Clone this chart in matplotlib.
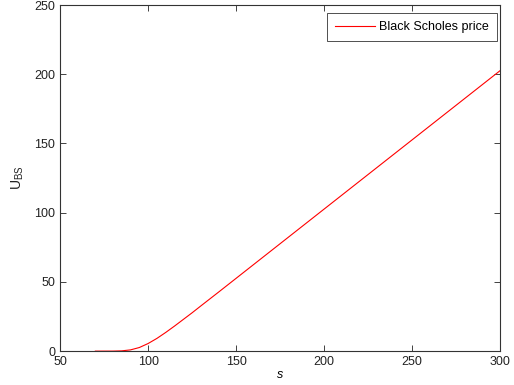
import matplotlib.pyplot as plt
import numpy as np

plt.rcParams['font.family'] = ['Liberation Sans', 'DejaVu Sans']

# spot price and Black Scholes call value
s_vals = [70, 80, 85, 90, 95, 100, 105, 110, 115, 120, 125, 130,
          140, 150, 175, 200, 225, 250, 275, 300]
u_bs = [0.0, 0.02, 0.2, 0.9, 2.6, 5.5, 9.2, 13.5, 18.1, 22.9, 27.7, 32.7,
        42.6, 52.6, 77.6, 102.6, 127.6, 152.6, 177.6, 202.6]

x_ticks = [50, 100, 150, 200, 250, 300]
y_ticks = [0, 50, 100, 150, 200, 250]

fig = plt.figure(figsize=(5.14, 3.85), dpi=100)
ax = fig.add_axes([0.117, 0.088, 0.856, 0.899])
ax.plot(s_vals, u_bs, color='red', lw=0.8, label='Black Scholes price')

ax.set_xlim(50, 300)
ax.set_ylim(0, 250)
ax.set_xticks(x_ticks)
ax.set_yticks(y_ticks)
ax.tick_params(direction='in', top=True, right=True, labelsize=9, length=4,
               width=0.6, colors='#222222')
for sp in ax.spines.values():
    sp.set_linewidth(0.8)
    sp.set_color('#333333')

ax.set_xlabel('s', fontsize=9, style='italic', labelpad=1)
ax.set_ylabel(r'U$_{\mathregular{BS}}$', fontsize=10, labelpad=6, color='#222222')
leg = ax.legend(loc='upper right', bbox_to_anchor=(0.993, 0.977), fontsize=9,
                fancybox=False, framealpha=1, edgecolor='#333333',
                handlelength=3.2, handletextpad=0.3, borderpad=0.65,
                borderaxespad=0)
leg.get_frame().set_linewidth(0.6)

fig.savefig('out.png', dpi=100)
